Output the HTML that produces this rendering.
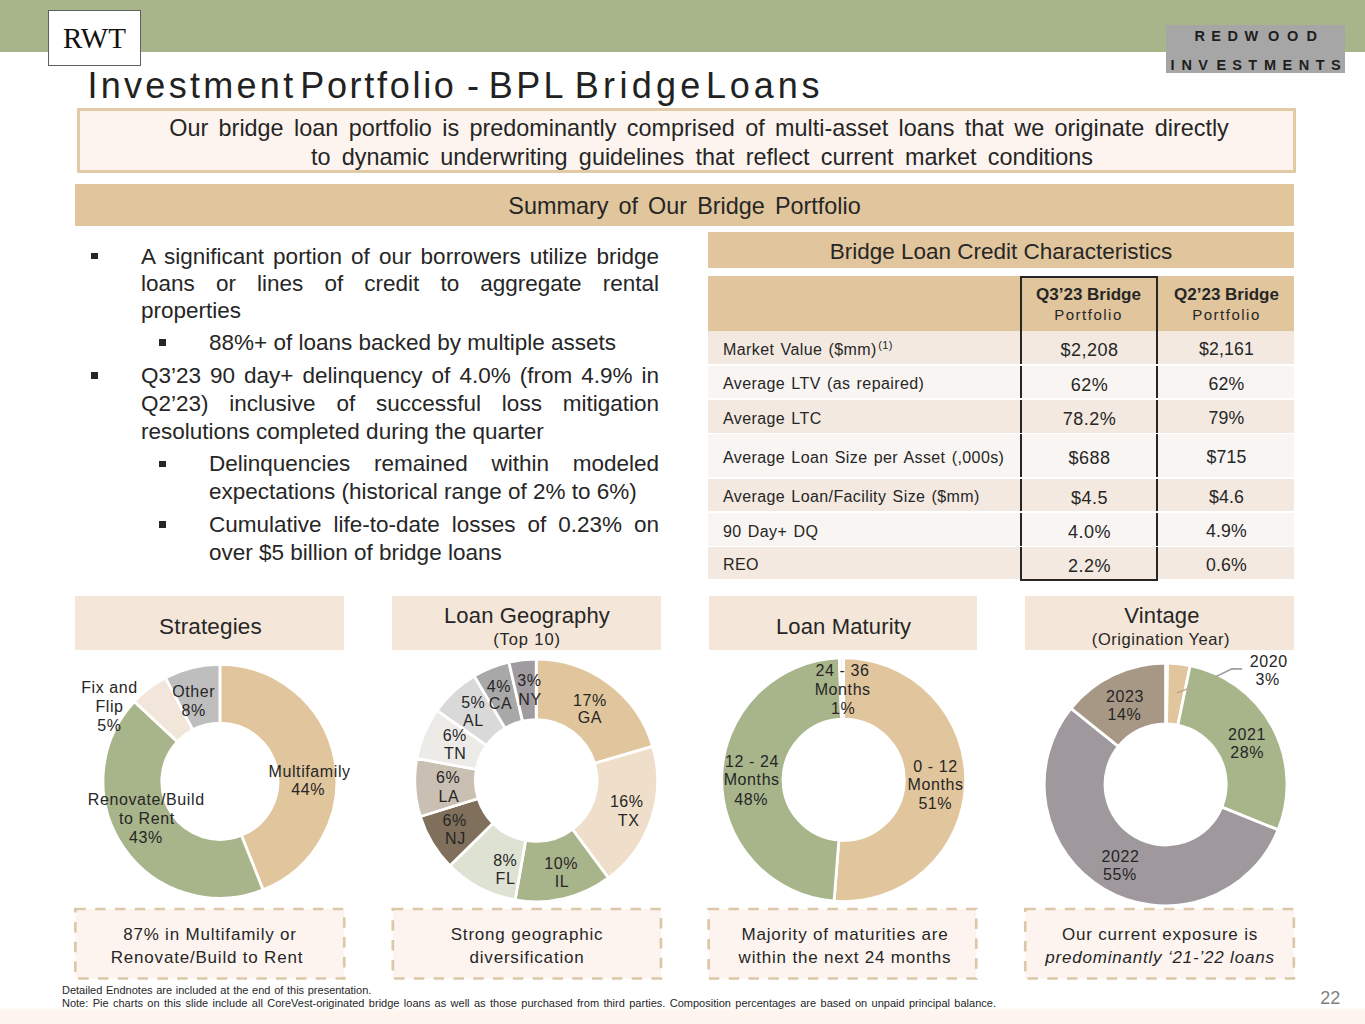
<!DOCTYPE html>
<html><head><meta charset="utf-8">
<style>
*{box-sizing:border-box;margin:0;padding:0}
html,body{width:1365px;height:1024px;overflow:hidden;background:#fff}
body{position:relative;font-family:"Liberation Sans",sans-serif;color:#262626}
.a{position:absolute}
.topbar{left:0;top:0;width:1365px;height:52px;background:#a8b48a}
.rwt{left:48px;top:10px;width:93px;height:56px;border:1px solid #606060;background:#fff;font-family:"Liberation Serif",serif;font-size:29px;color:#111;text-align:center;line-height:54px}
.logo{left:1166px;top:25px;width:179px;height:48px;background:#a6a6a6}
.title{left:90px;top:64px;font-size:36px;letter-spacing:2.48px;white-space:nowrap;color:#222;line-height:42px;padding-top:0.5px}
.sub{left:77px;top:108px;width:1219px;height:65px;border:3px solid #e2caa6;background:#fdf4ef;font-size:23.4px;word-spacing:3.9px;text-align:center;line-height:29.7px;padding-top:2.5px;padding-left:25px;color:#262626;white-space:nowrap}
.sum{left:75px;top:183.5px;width:1219px;height:42px;background:#e1c59d;font-size:23.4px;word-spacing:3.6px;text-align:center;line-height:45px;color:#262626}
.bl{position:absolute;font-size:22.5px;line-height:27px;color:#262626;text-align:justify;text-align-last:left}
.sq{position:absolute;width:6.5px;height:6.5px;background:#262626}
.tbl-h{left:708px;top:232px;width:586px;height:36px;background:#e1c59d;font-size:22.5px;text-align:center;line-height:40px}
.thead{left:708px;top:276px;width:586px;height:54.5px;background:#e1c59d}
.row{position:absolute;left:708px;width:586px;font-size:17px}
.row .c1{position:absolute;left:15px;top:2px;white-space:nowrap;font-size:16px;letter-spacing:0.4px;word-spacing:1.4px}
.row .c1 sup{font-size:11px;vertical-align:0;position:relative;top:-6px;margin-left:1.5px}
.row .c2{position:absolute;left:311.5px;width:138px;height:100%;top:0;text-align:center;font-size:18px;letter-spacing:0.45px;border-left:2px solid #262626;border-right:2px solid #262626;padding-top:3.3px;padding-left:2px}
.row .c2.last{border-bottom:2px solid #262626;height:calc(100% + 2px)}
.row .c3{position:absolute;left:450.5px;width:136px;text-align:center;font-size:17.7px;letter-spacing:0.15px;top:2.4px}
.hbox{position:absolute;top:596px;height:54px;width:269px;background:#f4e6d8;text-align:center;color:#262626}
.hbox .t{font-size:22px;letter-spacing:0.15px;white-space:nowrap}
.hbox .s{font-size:16.5px;letter-spacing:0.55px;white-space:nowrap}
.dbox{position:absolute;top:908px;height:71px;text-align:center;font-size:17px;letter-spacing:0.8px;line-height:23px;padding-top:15px}
.foot{left:62px;font-size:11px;white-space:nowrap;color:#262626}
</style></head>
<body>
<div class="a topbar"></div>
<div class="a rwt">RWT</div>
<div class="a logo"></div>
<div class="a title" style="left:0;width:1365px;height:44px"><span style="position:absolute;left:87.4px;letter-spacing:3.3px">Investment</span><span style="position:absolute;left:300.2px;letter-spacing:2.7px">Portfolio</span><span style="position:absolute;left:467.1px;letter-spacing:0px">-</span><span style="position:absolute;left:488.8px;letter-spacing:3.35px">BPL</span><span style="position:absolute;left:574.8px;letter-spacing:4.3px">Bridge</span><span style="position:absolute;left:705.9px;letter-spacing:3.9px">Loans</span></div>
<div class="a sub">Our bridge loan portfolio is predominantly comprised of multi-asset loans that we originate directly<br><span style="word-spacing:4.8px;position:relative;left:3px">to dynamic underwriting guidelines that reflect current market conditions</span></div>
<div class="a sum">Summary of Our Bridge Portfolio</div>

<div class="sq" style="left:91px;top:252.7px"></div>
<div class="bl" style="left:141px;top:242.7px;width:518px;line-height:27.2px">A significant portion of our borrowers utilize bridge loans or lines of credit to aggregate rental properties</div>
<div class="sq" style="left:159.3px;top:339px"></div>
<div class="bl" style="left:209px;top:328.9px;width:450px;line-height:27.2px">88%+ of loans backed by multiple assets</div>
<div class="sq" style="left:91px;top:372px"></div>
<div class="bl" style="left:141px;top:361.5px;width:518px;line-height:28px">Q3’23 90 day+ delinquency of 4.0% (from 4.9% in Q2’23) inclusive of successful loss mitigation resolutions completed during the quarter</div>
<div class="sq" style="left:159.3px;top:460.7px"></div>
<div class="bl" style="left:209px;top:450.4px;width:450px;line-height:27.5px">Delinquencies remained within modeled expectations (historical range of 2% to 6%)</div>
<div class="sq" style="left:159.3px;top:521.3px"></div>
<div class="bl" style="left:209px;top:510.8px;width:450px;line-height:28.6px">Cumulative life-to-date losses of 0.23% on over $5 billion of bridge loans</div>

<div class="a tbl-h">Bridge Loan Credit Characteristics</div>
<div class="a thead"></div>
<div class="a" style="left:1019.5px;top:276px;width:138px;height:54.5px;border:2px solid #262626;border-bottom:none;text-align:center;padding-top:6.5px">
<div style="font-weight:bold;font-size:17px;line-height:20px">Q3’23 Bridge</div><div style="font-size:15px;letter-spacing:1.5px;line-height:20px">Portfolio</div></div>
<div class="a" style="left:1158.5px;top:276px;width:136px;height:54.5px;text-align:center;padding-top:8.5px">
<div style="font-weight:bold;font-size:17px;line-height:20px">Q2’23 Bridge</div><div style="font-size:15px;letter-spacing:1.5px;line-height:20px">Portfolio</div></div>
<div class="row" style="top:330.5px;height:33.5px;background:#f3e9e0;line-height:33.5px">
<div class="c1">Market Value ($mm)<sup>(1)</sup></div><div class="c2">$2,208</div><div class="c3">$2,161</div></div>
<div class="row" style="top:365.5px;height:32.5px;background:#f9f5f2;line-height:32.5px">
<div class="c1">Average LTV (as repaired)</div><div class="c2">62%</div><div class="c3">62%</div></div>
<div class="row" style="top:399.5px;height:33.0px;background:#f3e9e0;line-height:33.0px">
<div class="c1">Average LTC</div><div class="c2">78.2%</div><div class="c3">79%</div></div>
<div class="row" style="top:434px;height:43px;background:#f9f5f2;line-height:43px">
<div class="c1">Average Loan Size per Asset (,000s)</div><div class="c2">$688</div><div class="c3">$715</div></div>
<div class="row" style="top:478.5px;height:32.5px;background:#f3e9e0;line-height:32.5px">
<div class="c1">Average Loan/Facility Size ($mm)</div><div class="c2">$4.5</div><div class="c3">$4.6</div></div>
<div class="row" style="top:512.5px;height:33.0px;background:#f9f5f2;line-height:33.0px">
<div class="c1">90 Day+ DQ</div><div class="c2">4.0%</div><div class="c3">4.9%</div></div>
<div class="row" style="top:547px;height:32px;background:#f3e9e0;line-height:32px">
<div class="c1">REO</div><div class="c2 last">2.2%</div><div class="c3">0.6%</div></div>

<div class="hbox" style="left:75px"><div class="t" style="line-height:61px;font-size:22.5px;padding-left:2px">Strategies</div></div>
<div class="hbox" style="left:392px"><div class="t" style="line-height:25px;padding-top:7px;padding-left:1px">Loan Geography</div><div class="s" style="line-height:19px;padding-left:1px;letter-spacing:0.9px;margin-top:2.2px">(Top 10)</div></div>
<div class="hbox" style="left:709px;width:268px"><div class="t" style="line-height:61px;padding-left:1px">Loan Maturity</div></div>
<div class="hbox" style="left:1025px"><div class="t" style="line-height:25px;padding-top:7px;padding-left:5px">Vintage</div><div class="s" style="line-height:19px;padding-left:3px;margin-top:2.2px">(Origination Year)</div></div>

<svg class="a" style="left:0;top:0" width="1365" height="1024" font-family="Liberation Sans">
<path d="M219.90,664.40A116.9,116.9 0 0 1 263.12,889.92L241.38,835.28A58.1,58.1 0 0 0 219.90,723.20Z" fill="#e1c59c" stroke="#fff" stroke-width="2.8"/>
<path d="M263.12,889.92A116.9,116.9 0 0 1 134.40,701.57L177.41,741.68A58.1,58.1 0 0 0 241.38,835.28Z" fill="#a8b58b" stroke="#fff" stroke-width="2.8"/>
<path d="M134.40,701.57A116.9,116.9 0 0 1 165.56,677.80L192.89,729.86A58.1,58.1 0 0 0 177.41,741.68Z" fill="#f2e6da" stroke="#fff" stroke-width="2.8"/>
<path d="M165.56,677.80A116.9,116.9 0 0 1 219.90,664.40L219.90,723.20A58.1,58.1 0 0 0 192.89,729.86Z" fill="#bebebe" stroke="#fff" stroke-width="2.8"/>
<path d="M536.20,659.00A121.4,121.4 0 0 1 652.72,746.33L594.56,763.34A60.8,60.8 0 0 0 536.20,719.60Z" fill="#e1c59c" stroke="#fff" stroke-width="2.8"/>
<path d="M652.72,746.33A121.4,121.4 0 0 1 608.41,877.99L572.37,829.27A60.8,60.8 0 0 0 594.56,763.34Z" fill="#efdfca" stroke="#fff" stroke-width="2.8"/>
<path d="M608.41,877.99A121.4,121.4 0 0 1 515.12,899.96L525.64,840.28A60.8,60.8 0 0 0 572.37,829.27Z" fill="#a8b58b" stroke="#fff" stroke-width="2.8"/>
<path d="M515.12,899.96A121.4,121.4 0 0 1 449.91,865.79L492.98,823.17A60.8,60.8 0 0 0 525.64,840.28Z" fill="#dee2d2" stroke="#fff" stroke-width="2.8"/>
<path d="M449.91,865.79A121.4,121.4 0 0 1 420.29,816.50L478.15,798.48A60.8,60.8 0 0 0 492.98,823.17Z" fill="#7f6f5b" stroke="#fff" stroke-width="2.8"/>
<path d="M420.29,816.50A121.4,121.4 0 0 1 416.79,758.48L476.40,769.42A60.8,60.8 0 0 0 478.15,798.48Z" fill="#c9bfb2" stroke="#fff" stroke-width="2.8"/>
<path d="M416.79,758.48A121.4,121.4 0 0 1 437.00,710.42L486.52,745.35A60.8,60.8 0 0 0 476.40,769.42Z" fill="#ecebe8" stroke="#fff" stroke-width="2.8"/>
<path d="M437.00,710.42A121.4,121.4 0 0 1 474.22,676.01L505.16,728.12A60.8,60.8 0 0 0 486.52,745.35Z" fill="#d9d9d9" stroke="#fff" stroke-width="2.8"/>
<path d="M474.22,676.01A121.4,121.4 0 0 1 508.89,662.11L522.52,721.16A60.8,60.8 0 0 0 505.16,728.12Z" fill="#a8a8a8" stroke="#fff" stroke-width="2.8"/>
<path d="M508.89,662.11A121.4,121.4 0 0 1 536.20,659.00L536.20,719.60A60.8,60.8 0 0 0 522.52,721.16Z" fill="#a09ba1" stroke="#fff" stroke-width="2.8"/>
<path d="M843.60,657.80A121.9,121.9 0 1 1 834.04,901.22L838.85,840.11A60.6,60.6 0 1 0 843.60,719.10Z" fill="#e1c59c" stroke="#fff" stroke-width="2.8"/>
<path d="M834.04,901.22A121.9,121.9 0 0 1 839.35,657.87L841.49,719.14A60.6,60.6 0 0 0 838.85,840.11Z" fill="#a8b58b" stroke="#fff" stroke-width="2.8"/>
<path d="M839.35,657.87A121.9,121.9 0 0 1 843.60,657.80L843.60,719.10A60.6,60.6 0 0 0 841.49,719.14Z" fill="#f6f1ea" stroke="#fff" stroke-width="2.8"/>
<path d="M1167.57,663.02A121.4,121.4 0 0 1 1190.22,665.52L1177.89,725.06A60.6,60.6 0 0 0 1166.58,723.81Z" fill="#e1c59c" stroke="#fff" stroke-width="2.8"/>
<path d="M1190.22,665.52A121.4,121.4 0 0 1 1278.16,829.88L1221.79,807.10A60.6,60.6 0 0 0 1177.89,725.06Z" fill="#a8b58b" stroke="#fff" stroke-width="2.8"/>
<path d="M1278.16,829.88A121.4,121.4 0 1 1 1070.99,708.33L1118.37,746.43A60.6,60.6 0 1 0 1221.79,807.10Z" fill="#9f999d" stroke="#fff" stroke-width="2.8"/>
<path d="M1070.99,708.33A121.4,121.4 0 0 1 1165.54,663.00L1165.57,723.80A60.6,60.6 0 0 0 1118.37,746.43Z" fill="#a69885" stroke="#fff" stroke-width="2.8"/>
<polyline points="1242.2,669 1232.1,668.8 1216.3,676.4" fill="none" stroke="#999" stroke-width="1.5"/>
<polyline points="1188.5,688.3 1177,692.8" fill="none" stroke="#b8a584" stroke-width="1.4"/>
<g transform="translate(0,0.8)">
<text x="109.5" y="692" font-size="16" letter-spacing="0.6" text-anchor="middle" fill="#262626" >Fix and</text>
<text x="109.5" y="711" font-size="16" letter-spacing="0.6" text-anchor="middle" fill="#262626" >Flip</text>
<text x="109.5" y="730.4" font-size="16" letter-spacing="0.6" text-anchor="middle" fill="#262626" >5%</text>
<text x="193.7" y="696.7" font-size="16" letter-spacing="0.6" text-anchor="middle" fill="#262626" >Other</text>
<text x="193.7" y="715.1" font-size="16" letter-spacing="0.6" text-anchor="middle" fill="#262626" >8%</text>
<text x="309.6" y="776.3" font-size="16" letter-spacing="0.6" text-anchor="middle" fill="#262626" >Multifamily</text>
<text x="308.2" y="794.1" font-size="16" letter-spacing="0.6" text-anchor="middle" fill="#262626" >44%</text>
<text x="146.2" y="804.4" font-size="16" letter-spacing="0.6" text-anchor="middle" fill="#262626" >Renovate/Build</text>
<text x="146.9" y="822.8" font-size="16" letter-spacing="0.6" text-anchor="middle" fill="#262626" >to Rent</text>
<text x="146" y="841.9" font-size="16" letter-spacing="0.6" text-anchor="middle" fill="#262626" >43%</text>
<text x="590" y="704.9" font-size="16" letter-spacing="0.6" text-anchor="middle" fill="#262626" >17%</text>
<text x="590" y="722.6" font-size="16" letter-spacing="0.6" text-anchor="middle" fill="#262626" >GA</text>
<text x="529.5" y="685.5" font-size="16" letter-spacing="0.6" text-anchor="middle" fill="#262626" >3%</text>
<text x="530" y="704.1" font-size="16" letter-spacing="0.6" text-anchor="middle" fill="#262626" >NY</text>
<text x="499" y="690.8" font-size="16" letter-spacing="0.6" text-anchor="middle" fill="#262626" >4%</text>
<text x="500.5" y="708.7" font-size="16" letter-spacing="0.6" text-anchor="middle" fill="#262626" >CA</text>
<text x="473.3" y="707.4" font-size="16" letter-spacing="0.6" text-anchor="middle" fill="#262626" >5%</text>
<text x="473.4" y="725.5" font-size="16" letter-spacing="0.6" text-anchor="middle" fill="#262626" >AL</text>
<text x="454.8" y="739.8" font-size="16" letter-spacing="0.6" text-anchor="middle" fill="#262626" >6%</text>
<text x="455.2" y="757.9" font-size="16" letter-spacing="0.6" text-anchor="middle" fill="#262626" >TN</text>
<text x="448.1" y="782.5" font-size="16" letter-spacing="0.6" text-anchor="middle" fill="#262626" >6%</text>
<text x="448.9" y="801" font-size="16" letter-spacing="0.6" text-anchor="middle" fill="#262626" >LA</text>
<text x="454.6" y="824.8" font-size="16" letter-spacing="0.6" text-anchor="middle" fill="#262626" >6%</text>
<text x="455.4" y="843.4" font-size="16" letter-spacing="0.6" text-anchor="middle" fill="#262626" >NJ</text>
<text x="505.3" y="864.8" font-size="16" letter-spacing="0.6" text-anchor="middle" fill="#262626" >8%</text>
<text x="505.5" y="882.9" font-size="16" letter-spacing="0.6" text-anchor="middle" fill="#262626" >FL</text>
<text x="561.1" y="868.2" font-size="16" letter-spacing="0.6" text-anchor="middle" fill="#262626" >10%</text>
<text x="561.9" y="886.7" font-size="16" letter-spacing="0.6" text-anchor="middle" fill="#262626" >IL</text>
<text x="626.8" y="806.7" font-size="16" letter-spacing="0.6" text-anchor="middle" fill="#262626" >16%</text>
<text x="628.6" y="825.1" font-size="16" letter-spacing="0.6" text-anchor="middle" fill="#262626" >TX</text>
<text x="842.6" y="675.6" font-size="16" letter-spacing="0.6" text-anchor="middle" fill="#262626" >24 - 36</text>
<text x="842.7" y="694" font-size="16" letter-spacing="0.6" text-anchor="middle" fill="#262626" >Months</text>
<text x="843.1" y="713.1" font-size="16" letter-spacing="0.6" text-anchor="middle" fill="#262626" >1%</text>
<text x="752" y="766.4" font-size="16" letter-spacing="0.6" text-anchor="middle" fill="#262626" >12 - 24</text>
<text x="751.7" y="784.5" font-size="16" letter-spacing="0.6" text-anchor="middle" fill="#262626" >Months</text>
<text x="751.2" y="804" font-size="16" letter-spacing="0.6" text-anchor="middle" fill="#262626" >48%</text>
<text x="935.5" y="770.8" font-size="16" letter-spacing="0.6" text-anchor="middle" fill="#262626" >0 - 12</text>
<text x="935.5" y="789.3" font-size="16" letter-spacing="0.6" text-anchor="middle" fill="#262626" >Months</text>
<text x="935.3" y="808.3" font-size="16" letter-spacing="0.6" text-anchor="middle" fill="#262626" >51%</text>
<text x="1268.8" y="666" font-size="16" letter-spacing="0.6" text-anchor="middle" fill="#262626" >2020</text>
<text x="1267.6" y="684.4" font-size="16" letter-spacing="0.6" text-anchor="middle" fill="#262626" >3%</text>
<text x="1125" y="701.2" font-size="16" letter-spacing="0.6" text-anchor="middle" fill="#262626" >2023</text>
<text x="1124.4" y="719.3" font-size="16" letter-spacing="0.6" text-anchor="middle" fill="#262626" >14%</text>
<text x="1247.1" y="739.3" font-size="16" letter-spacing="0.6" text-anchor="middle" fill="#262626" >2021</text>
<text x="1247.1" y="757.4" font-size="16" letter-spacing="0.6" text-anchor="middle" fill="#262626" >28%</text>
<text x="1120.4" y="861" font-size="16" letter-spacing="0.6" text-anchor="middle" fill="#262626" >2022</text>
<text x="1120" y="879" font-size="16" letter-spacing="0.6" text-anchor="middle" fill="#262626" >55%</text>
</g>
<text x="1199.7" y="41.1" font-size="14.5" font-weight="bold" text-anchor="middle" fill="#1e1e1e">R</text>
<text x="1216.15" y="41.1" font-size="14.5" font-weight="bold" text-anchor="middle" fill="#1e1e1e">E</text>
<text x="1232.7" y="41.1" font-size="14.5" font-weight="bold" text-anchor="middle" fill="#1e1e1e">D</text>
<text x="1251.35" y="41.1" font-size="14.5" font-weight="bold" text-anchor="middle" fill="#1e1e1e">W</text>
<text x="1273.65" y="41.1" font-size="14.5" font-weight="bold" text-anchor="middle" fill="#1e1e1e">O</text>
<text x="1292.75" y="41.1" font-size="14.5" font-weight="bold" text-anchor="middle" fill="#1e1e1e">O</text>
<text x="1311.8" y="41.1" font-size="14.5" font-weight="bold" text-anchor="middle" fill="#1e1e1e">D</text>
<text x="1172.55" y="70" font-size="14.5" font-weight="bold" text-anchor="middle" fill="#1e1e1e">I</text>
<text x="1186.85" y="70" font-size="14.5" font-weight="bold" text-anchor="middle" fill="#1e1e1e">N</text>
<text x="1203" y="70" font-size="14.5" font-weight="bold" text-anchor="middle" fill="#1e1e1e">V</text>
<text x="1221.3" y="70" font-size="14.5" font-weight="bold" text-anchor="middle" fill="#1e1e1e">E</text>
<text x="1237.05" y="70" font-size="14.5" font-weight="bold" text-anchor="middle" fill="#1e1e1e">S</text>
<text x="1252.8" y="70" font-size="14.5" font-weight="bold" text-anchor="middle" fill="#1e1e1e">T</text>
<text x="1270.05" y="70" font-size="14.5" font-weight="bold" text-anchor="middle" fill="#1e1e1e">M</text>
<text x="1287.25" y="70" font-size="14.5" font-weight="bold" text-anchor="middle" fill="#1e1e1e">E</text>
<text x="1304.05" y="70" font-size="14.5" font-weight="bold" text-anchor="middle" fill="#1e1e1e">N</text>
<text x="1320.2" y="70" font-size="14.5" font-weight="bold" text-anchor="middle" fill="#1e1e1e">T</text>
<text x="1335.75" y="70" font-size="14.5" font-weight="bold" text-anchor="middle" fill="#1e1e1e">S</text>
<rect x="75.35" y="909" width="268.90000000000003" height="69.5" fill="#fdf4ef" stroke="none"/>
<rect x="75.35" y="909" width="268.90000000000003" height="69.5" fill="none" stroke="#dcc8a8" stroke-width="2.7" stroke-dasharray="10.5 9.3"/>
<rect x="392.85" y="909" width="268.09999999999997" height="69.5" fill="#fdf4ef" stroke="none"/>
<rect x="392.85" y="909" width="268.09999999999997" height="69.5" fill="none" stroke="#dcc8a8" stroke-width="2.7" stroke-dasharray="10.5 9.3"/>
<rect x="708.65" y="909" width="267.6000000000001" height="69.5" fill="#fdf4ef" stroke="none"/>
<rect x="708.65" y="909" width="267.6000000000001" height="69.5" fill="none" stroke="#dcc8a8" stroke-width="2.7" stroke-dasharray="10.5 9.3"/>
<rect x="1025.25" y="909" width="268.6000000000001" height="69.5" fill="#fdf4ef" stroke="none"/>
<rect x="1025.25" y="909" width="268.6000000000001" height="69.5" fill="none" stroke="#dcc8a8" stroke-width="2.7" stroke-dasharray="10.5 9.3"/>
</svg>

<div class="dbox" style="left:74px;width:272px">87% in Multifamily or<br><span style="position:relative;left:-3px">Renovate/Build to Rent</span></div>
<div class="dbox" style="left:391px;width:272px">Strong geographic<br>diversification</div>
<div class="dbox" style="left:709.5px;width:271px">Majority of maturities are<br>within the next 24 months</div>
<div class="dbox" style="left:1024px;width:272px">Our current exposure is<br><i>predominantly ‘21-’22 loans</i></div>

<div class="a" style="left:0;top:1008px;width:1365px;height:16px;background:linear-gradient(#fefbf8 0,#fdf5ee 3px)"></div>
<div class="a foot" style="top:984px;word-spacing:0.6px">Detailed Endnotes are included at the end of this presentation.</div>
<div class="a foot" style="top:997px;word-spacing:1.35px">Note: Pie charts on this slide include all CoreVest-originated bridge loans as well as those purchased from third parties. Composition percentages are based on unpaid principal balance.</div>
<div class="a" style="left:1320.2px;top:986px;font-size:18px;line-height:24px;color:#7f7f7f">22</div>
</body></html>
